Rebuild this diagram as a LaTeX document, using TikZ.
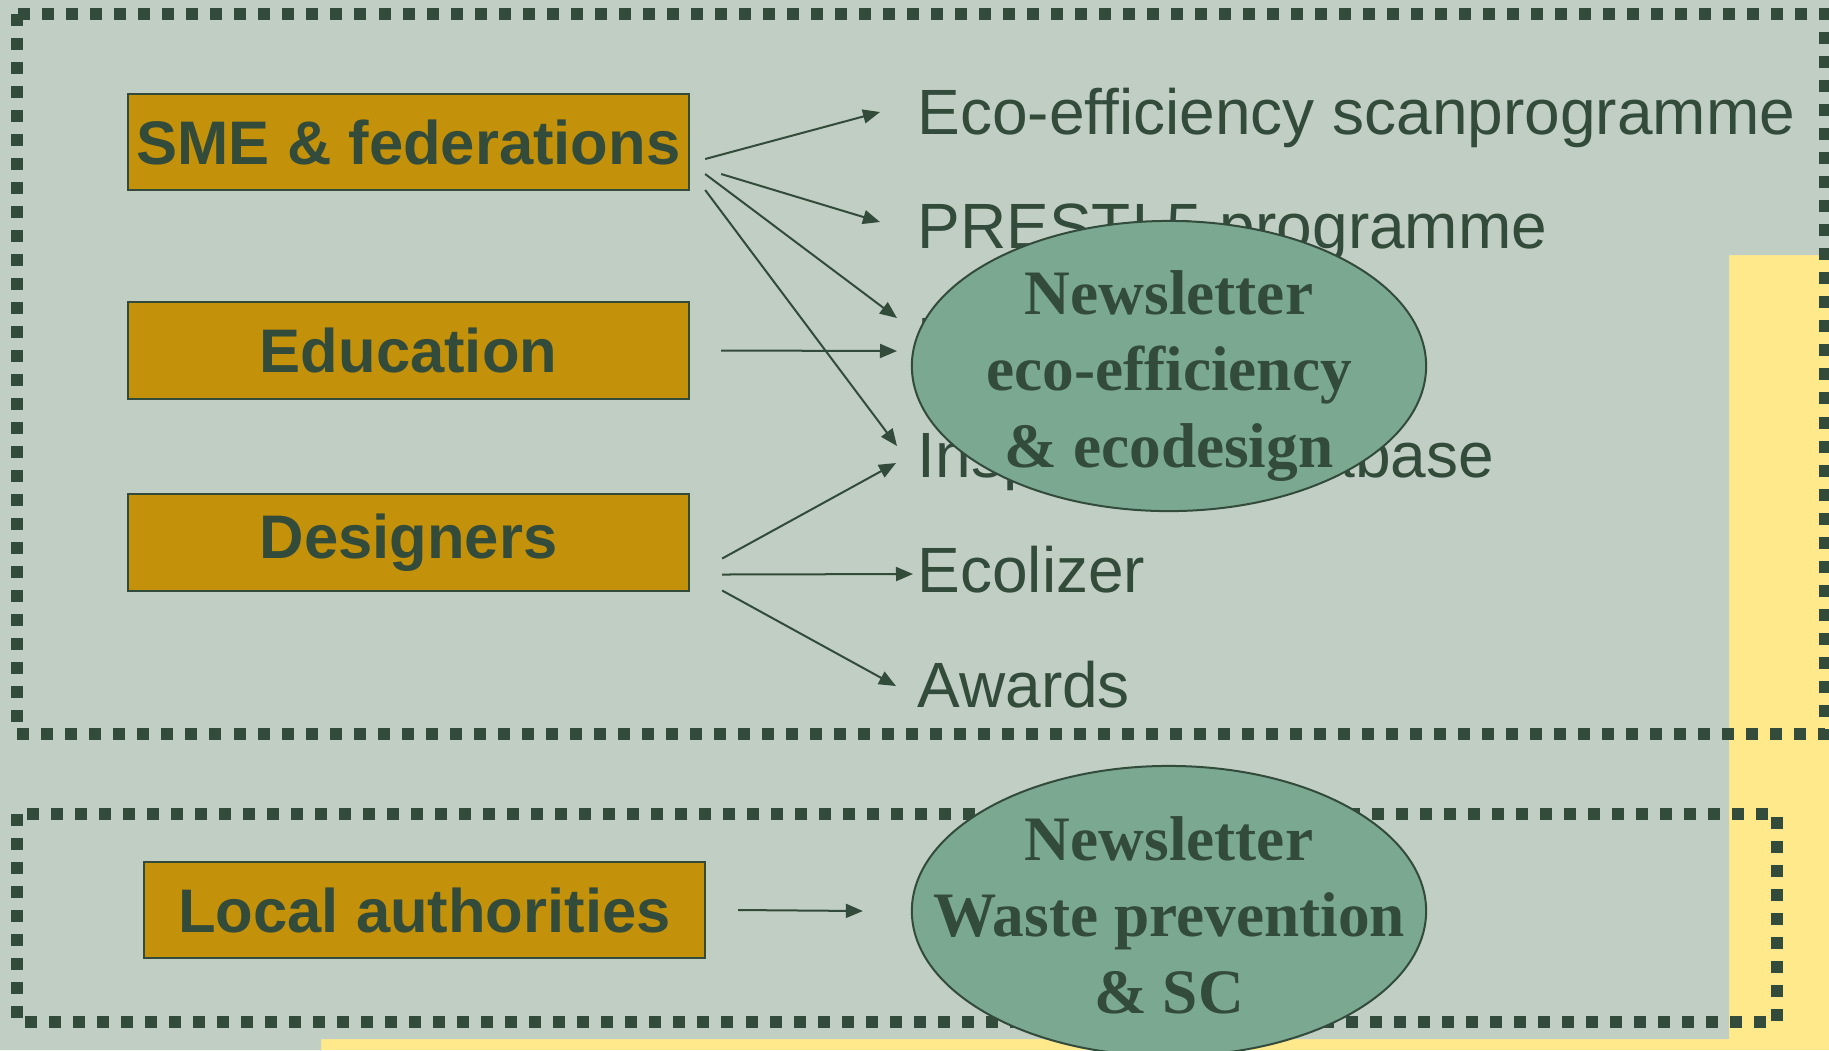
\documentclass[tikz,border=0pt]{standalone}
\usepackage{fontspec}
\setmainfont{Liberation Sans}
\newfontfamily\nlserif{Liberation Serif}
\usetikzlibrary{calc,shapes.geometric,arrows.meta}

\definecolor{panelgrey}{HTML}{C0CEC3}
\definecolor{paneyellow}{HTML}{FFE98B}
\definecolor{inkgreen}{HTML}{334B3B}
\definecolor{boxgold}{HTML}{C4910A}
\definecolor{ovalgreen}{HTML}{7AA891}

\tikzset{
    dotframe/.style={draw=inkgreen, line width=0.12cm, dash pattern=on 0.12cm off 0.12cm},
    groupbox/.style={draw=inkgreen, line width=0.02cm, fill=boxgold, text=inkgreen,
        minimum width=5.61cm, minimum height=0.96cm, inner sep=0pt,
        font=\bfseries\fontsize{17.5}{21}\selectfont},
    item/.style={anchor=west, inner sep=0pt, text height=13pt, text depth=0pt,
        text=inkgreen, font=\fontsize{18.2}{21}\selectfont},
    arr/.style={draw=inkgreen, line width=0.02cm, -{Triangle[length=0.17cm,width=0.14cm]}},
    nlbubble/.style={ellipse, draw=inkgreen, line width=0.02cm, fill=ovalgreen,
        minimum width=5.14cm, minimum height=2.9cm, inner sep=0pt},
    nltext/.style={align=center, inner sep=0pt, text=inkgreen,
        font=\nlserif\bfseries\fontsize{18}{21.8}\selectfont}
}

\begin{document}
\begin{tikzpicture}[x=0.01cm,y=-0.01cm]
    \useasboundingbox (0,0) rectangle (1829,1050);

    % 背景
    \fill[paneyellow] (0,0) rectangle (1829,1050);
    \fill[panelgrey] (0,0) -- (1829,0) -- (1829,255) -- (1729,255) -- (1729,1039)
        -- (321,1039) -- (321,1050) -- (0,1050) -- cycle;

    % 点線の枠
    \draw[dotframe] (17,14) rectangle (1825,734);
    \draw[dotframe] (17,814) rectangle (1777,1022);

    % 箱
    \node[groupbox] (sme) at (408.5,142) {SME \& federations};
    \node[groupbox] (edu) at (408.5,350.5) {Education};
    \node[groupbox] (des) at (408.5,542.5) {Designers};
    \node[groupbox] (loc) at (424.5,910) {Local authorities};

    % 項目
    \node[item] (eco) at (917,112) {Eco-efficiency scanprogramme};
    \node[item] (presti) at (917,226) {PRESTI 5 programme};
    \node[item] (ecod) at (917,340) {Ecodesign};
    \node[item] (insp) at (917,455) {Inspiration database};
    \node[item] (ecol) at (917,570) {Ecolizer};
    \node[item] (awards) at (917,685) {Awards};

    % 矢印
    \draw[arr] ($(sme.east)+(15,17)$) -- ($(eco.west)+(-37,0)$);
    \draw[arr] ($(sme.east)+(31,32)$) -- ($(presti.west)+(-37,-4)$);
    \draw[arr] ($(sme.east)+(15,32)$) -- ($(ecod.west)+(-20,-22)$);
    \draw[arr] ($(sme.east)+(15,48)$) -- ($(insp.west)+(-20,-9)$);
    \draw[arr] ($(edu.east)+(31,0)$) -- ($(ecod.west)+(-20,11)$);
    \draw[arr] ($(des.east)+(32,16)$) -- ($(insp.west)+(-21,8)$);
    \draw[arr] ($(des.east)+(32,32)$) -- ($(ecol.west)+(-4,4)$);
    \draw[arr] ($(des.east)+(32,48)$) -- ($(awards.west)+(-21,1)$);

    % 楕円
    \node[nlbubble] (nl1) at (1169,366) {};
    \node[nltext] (nl1t) at ($(nl1)+(0,10)$) {Newsletter\\eco-efficiency\\\& ecodesign};
    \node[nlbubble] (nl2) at (1169,911) {};
    \node[nltext] (nl2t) at ($(nl2)+(0,4)$) {Newsletter\\Waste prevention\\\& SC};
    \draw[arr] ($(loc.east)+(32,0)$) -- ($(nl2.west)+(-48,0)$);
\end{tikzpicture}
\end{document}
